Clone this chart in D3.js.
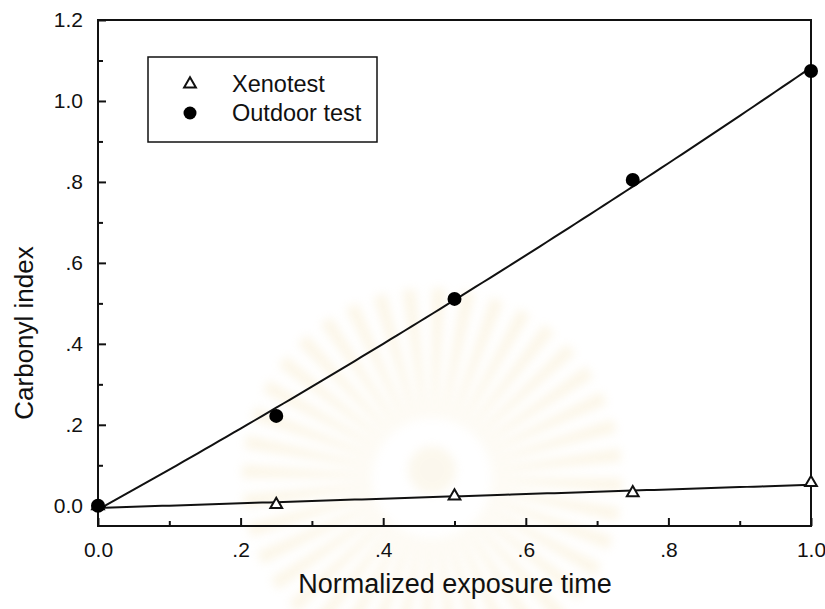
<!DOCTYPE html>
<html>
<head>
<meta charset="utf-8">
<script src="https://cdn.jsdelivr.net/npm/d3@7"></script>
<style>
  html, body { margin: 0; padding: 0; background: #fff; }
  svg { display: block; }
  text { font-family: "Liberation Sans", Arial, Helvetica, sans-serif; fill: #111; }
</style>
</head>
<body>
<svg id="chart" width="825" height="609"></svg>
<script>
// Exposure time (normalized) and measured carbonyl index
const exposure = [0, 0.25, 0.5, 0.75, 1.0];
const xenotest = [0.0, 0.003, 0.024, 0.032, 0.057];
const outdoor  = [0.0, 0.222, 0.511, 0.805, 1.074];

const xMajor = [0, 0.2, 0.4, 0.6, 0.8, 1.0];
const xMajorLabels = ["0.0", ".2", ".4", ".6", ".8", "1.0"];
const xMinor = [0.1, 0.3, 0.5, 0.7, 0.9];
const yMajor = [0, 0.2, 0.4, 0.6, 0.8, 1.0, 1.2];
const yMajorLabels = ["0.0", ".2", ".4", ".6", ".8", "1.0", "1.2"];
const yMinor = [0.1, 0.3, 0.5, 0.7, 0.9, 1.1];

const legendNames = ["Xenotest", "Outdoor test"];

const svg = d3.select("#chart");
const plotL = 98, plotR = 811, plotT = 20, plotB = 526;

const x = d3.scaleLinear().domain([0, 1]).range([plotL, plotR]);
const y = d3.scaleLinear().domain([-0.05, 1.2]).range([plotB, plotT]);

// faint emblem printed behind the plot
const defs = svg.append("defs");
defs.append("filter").attr("id", "soft")
  .append("feGaussianBlur").attr("stdDeviation", 5);
const emblem = svg.append("g")
  .attr("transform", "translate(432,478)")
  .attr("filter", "url(#soft)")
  .attr("opacity", 0.2);
const rays = d3.range(40);
const rayArc = d3.arc().innerRadius(60).outerRadius(190);
emblem.selectAll("path.ray").data(rays).join("path")
  .attr("class", "ray")
  .attr("d", i => rayArc({
    startAngle: (i / rays.length) * 2 * Math.PI,
    endAngle: ((i + 0.45) / rays.length) * 2 * Math.PI
  }))
  .attr("fill", "#efd490");
emblem.append("circle").attr("r", 24).attr("cy", -8).attr("fill", "#efdca8");

// frame
svg.append("rect")
  .attr("x", plotL).attr("y", plotT)
  .attr("width", plotR - plotL).attr("height", plotB - plotT)
  .attr("fill", "none").attr("stroke", "#111").attr("stroke-width", 2);

// axes with inward ticks
const gx = svg.append("g").attr("transform", `translate(0,${plotB})`)
  .call(d3.axisBottom(x).tickValues(xMajor).tickSize(-8).tickPadding(16)
    .tickFormat((d, i) => xMajorLabels[i]));
const gxm = svg.append("g").attr("transform", `translate(0,${plotB})`)
  .call(d3.axisBottom(x).tickValues(xMinor).tickSize(-5).tickFormat(""));
const gy = svg.append("g").attr("transform", `translate(${plotL},0)`)
  .call(d3.axisLeft(y).tickValues(yMajor).tickSize(-8).tickPadding(15)
    .tickFormat((d, i) => yMajorLabels[i]));
const gym = svg.append("g").attr("transform", `translate(${plotL},0)`)
  .call(d3.axisLeft(y).tickValues(yMinor).tickSize(-5).tickFormat(""));

[gx, gxm, gy, gym].forEach(g => {
  g.select(".domain").remove();
  g.selectAll(".tick line").attr("stroke", "#111").attr("stroke-width", 2);
  g.selectAll(".tick text").attr("font-size", 21).style("fill", "#111");
});

// least-squares polynomial fit
function polyfit(xs, ys, deg) {
  const n = deg + 1;
  const A = d3.range(n).map(r => d3.range(n + 1).map(c => 0));
  xs.forEach((xv, k) => {
    for (let r = 0; r < n; r++) {
      for (let c = 0; c < n; c++) A[r][c] += Math.pow(xv, r + c);
      A[r][n] += ys[k] * Math.pow(xv, r);
    }
  });
  for (let i = 0; i < n; i++) {
    let p = i;
    for (let r = i + 1; r < n; r++) if (Math.abs(A[r][i]) > Math.abs(A[p][i])) p = r;
    [A[i], A[p]] = [A[p], A[i]];
    for (let r = 0; r < n; r++) {
      if (r === i) continue;
      const f = A[r][i] / A[i][i];
      for (let c = i; c <= n; c++) A[r][c] -= f * A[i][c];
    }
  }
  const coef = A.map((row, i) => row[n] / row[i]);
  return xv => coef.reduce((s, cf, i) => s + cf * Math.pow(xv, i), 0);
}

const fitX = d3.range(0, 1.0001, 0.01);
const line = d3.line().x(d => x(d[0])).y(d => y(d[1]));

const fitXeno = polyfit(exposure, xenotest, 1);
const fitOut = polyfit(exposure, outdoor, 2);

svg.append("path")
  .attr("d", line(fitX.map(v => [v, fitXeno(v)])))
  .attr("fill", "none").attr("stroke", "#111").attr("stroke-width", 2);
svg.append("path")
  .attr("d", line(fitX.map(v => [v, fitOut(v)])))
  .attr("fill", "none").attr("stroke", "#111").attr("stroke-width", 2);

const tri = d3.symbol().type(d3.symbolTriangle).size(60);

svg.selectAll("path.xeno").data(exposure).join("path")
  .attr("class", "xeno")
  .attr("d", tri)
  .attr("transform", (d, i) => `translate(${x(d)},${y(xenotest[i])})`)
  .attr("fill", "#fff").attr("stroke", "#111").attr("stroke-width", 2);

svg.selectAll("circle.out").data(exposure).join("circle")
  .attr("class", "out")
  .attr("cx", d => x(d))
  .attr("cy", (d, i) => y(outdoor[i]))
  .attr("r", 7).attr("fill", "#000");

// legend
const lg = svg.append("g");
lg.append("rect")
  .attr("x", 148).attr("y", 57).attr("width", 229).attr("height", 85)
  .attr("fill", "#fff").attr("stroke", "#111").attr("stroke-width", 1.5);
lg.append("path").attr("d", tri)
  .attr("transform", "translate(190,84)")
  .attr("fill", "#fff").attr("stroke", "#111").attr("stroke-width", 2);
lg.append("circle").attr("cx", 190).attr("cy", 113).attr("r", 6.5).attr("fill", "#000");
lg.selectAll("text").data(legendNames).join("text")
  .attr("x", 232).attr("y", (d, i) => 92 + i * 29)
  .attr("font-size", 23.5)
  .text(d => d);

// axis titles
svg.append("text")
  .attr("x", 455).attr("y", 593)
  .attr("text-anchor", "middle").attr("font-size", 27)
  .text("Normalized exposure time");
svg.append("text")
  .attr("transform", "translate(33,333) rotate(-90)")
  .attr("text-anchor", "middle").attr("font-size", 26)
  .text("Carbonyl index");
</script>
</body>
</html>
